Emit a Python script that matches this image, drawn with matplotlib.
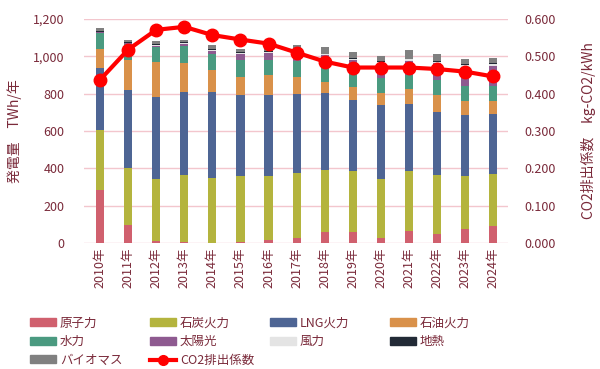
import numpy as np
from matplotlib import pyplot as plt
from matplotlib.lines import Line2D
from matplotlib.patches import Patch

plt.rcParams['font.family'] = ['Noto Sans CJK JP', 'DejaVu Sans']

years = [f'{y}年' for y in range(2010, 2025)]

# generation, TWh/year
nuclear = [282, 95, 9, 5, 0, 4, 14, 27, 59, 57, 29, 64, 48, 75, 89]
coal = [325, 307, 336, 357, 350, 355, 343, 348, 334, 327, 316, 323, 314, 286, 282]
lng = [332, 416, 435, 448, 460, 434, 436, 425, 410, 384, 392, 356, 342, 323, 318]
oil = [100, 161, 190, 156, 117, 98, 107, 89, 59, 66, 65, 80, 89, 75, 72]
hydro = [86, 85, 82, 89, 83, 89, 80, 86, 75, 84, 80, 77, 80, 81, 79]
solar = [3, 5, 6, 13, 20, 35, 38, 52, 68, 61, 80, 75, 89, 105, 110]
wind = [4, 5, 5, 5, 5, 5, 6, 6, 6, 7, 8, 9, 10, 9, 9]
geo = [3, 3, 3, 3, 3, 3, 3, 3, 3, 3, 3, 3, 3, 3, 3]
biomass = [15, 12, 14, 11, 23, 18, 21, 25, 38, 34, 29, 47, 37, 29, 31]

# kg-CO2/kWh
co2 = [0.437, 0.518, 0.571, 0.579, 0.557, 0.545, 0.534, 0.510,
       0.486, 0.470, 0.470, 0.470, 0.466, 0.459, 0.446]

series = [
    ('原子力', nuclear, '#d0606e'),
    ('石炭火力', coal, '#b4b43e'),
    ('LNG火力', lng, '#4e6594'),
    ('石油火力', oil, '#d9914a'),
    ('水力', hydro, '#4a9a80'),
    ('太陽光', solar, '#8e5a90'),
    ('風力', wind, '#e4e4e4'),
    ('地熱', geo, '#222a36'),
    ('バイオマス', biomass, '#808080'),
]

txt = '#7a2a3a'
grid_c = '#f3c6cd'

fig = plt.figure(figsize=(6, 3.69), dpi=100)
ax = fig.add_axes([0.14, 0.3415, 0.707, 0.607])
ax2 = ax.twinx()

x = np.arange(len(years))
bottom = np.zeros(len(years))
for name, vals, col in series:
    ax.bar(x, vals, 0.29, bottom=bottom, color=col, zorder=2)
    bottom += np.array(vals)

ax2.plot(x, co2, color='#ff0000', lw=3, marker='o', ms=9, zorder=3)

ax.set_xlim(-0.57, 14.53)
ax.set_ylim(0, 1200)
ax2.set_ylim(0, 0.6)
ax.set_yticks(range(0, 1201, 200))
ax.set_yticklabels([f'{v:,}' for v in range(0, 1201, 200)])
ax2.set_yticks(np.arange(0, 0.61, 0.1))
ax2.set_yticklabels([f'{v:.3f}' for v in np.arange(0, 0.61, 0.1)])
ax.set_xticks(x)
ax.set_xticklabels(years, rotation=90)

ax.set_axisbelow(True)
ax.grid(axis='y', color=grid_c, lw=1)
for a in (ax, ax2):
    for s in a.spines.values():
        s.set_visible(False)
    a.tick_params(length=0, labelsize=9, colors=txt)
ax.tick_params(axis='y', pad=14)
ax2.tick_params(axis='y', pad=12)

ax.set_ylabel('発電量　TWh/年', color=txt, fontsize=10, labelpad=8)
ax2.set_ylabel('CO2排出係数　kg-CO2/kWh', color=txt, fontsize=10, labelpad=18)

handles = [Patch(color=c, label=n) for n, v, c in series]
handles.append(Line2D([], [], color='#ff0000', lw=3, marker='o', ms=7,
                      label='CO2排出係数'))
# four legend columns, row order as in the source
cols = [handles[0::4], handles[1::4], handles[2::4], handles[3::4]]
for i, hs in enumerate(cols):
    fig.legend(handles=hs, loc='upper left',
               bbox_to_anchor=(0.05 + i * 0.2, 0.142), frameon=False,
               fontsize=9, handlelength=2.1, handleheight=0.6,
               handletextpad=0.3, labelspacing=0.45, labelcolor=txt,
               borderpad=0, borderaxespad=0)

fig.savefig('out.png', dpi=100)
